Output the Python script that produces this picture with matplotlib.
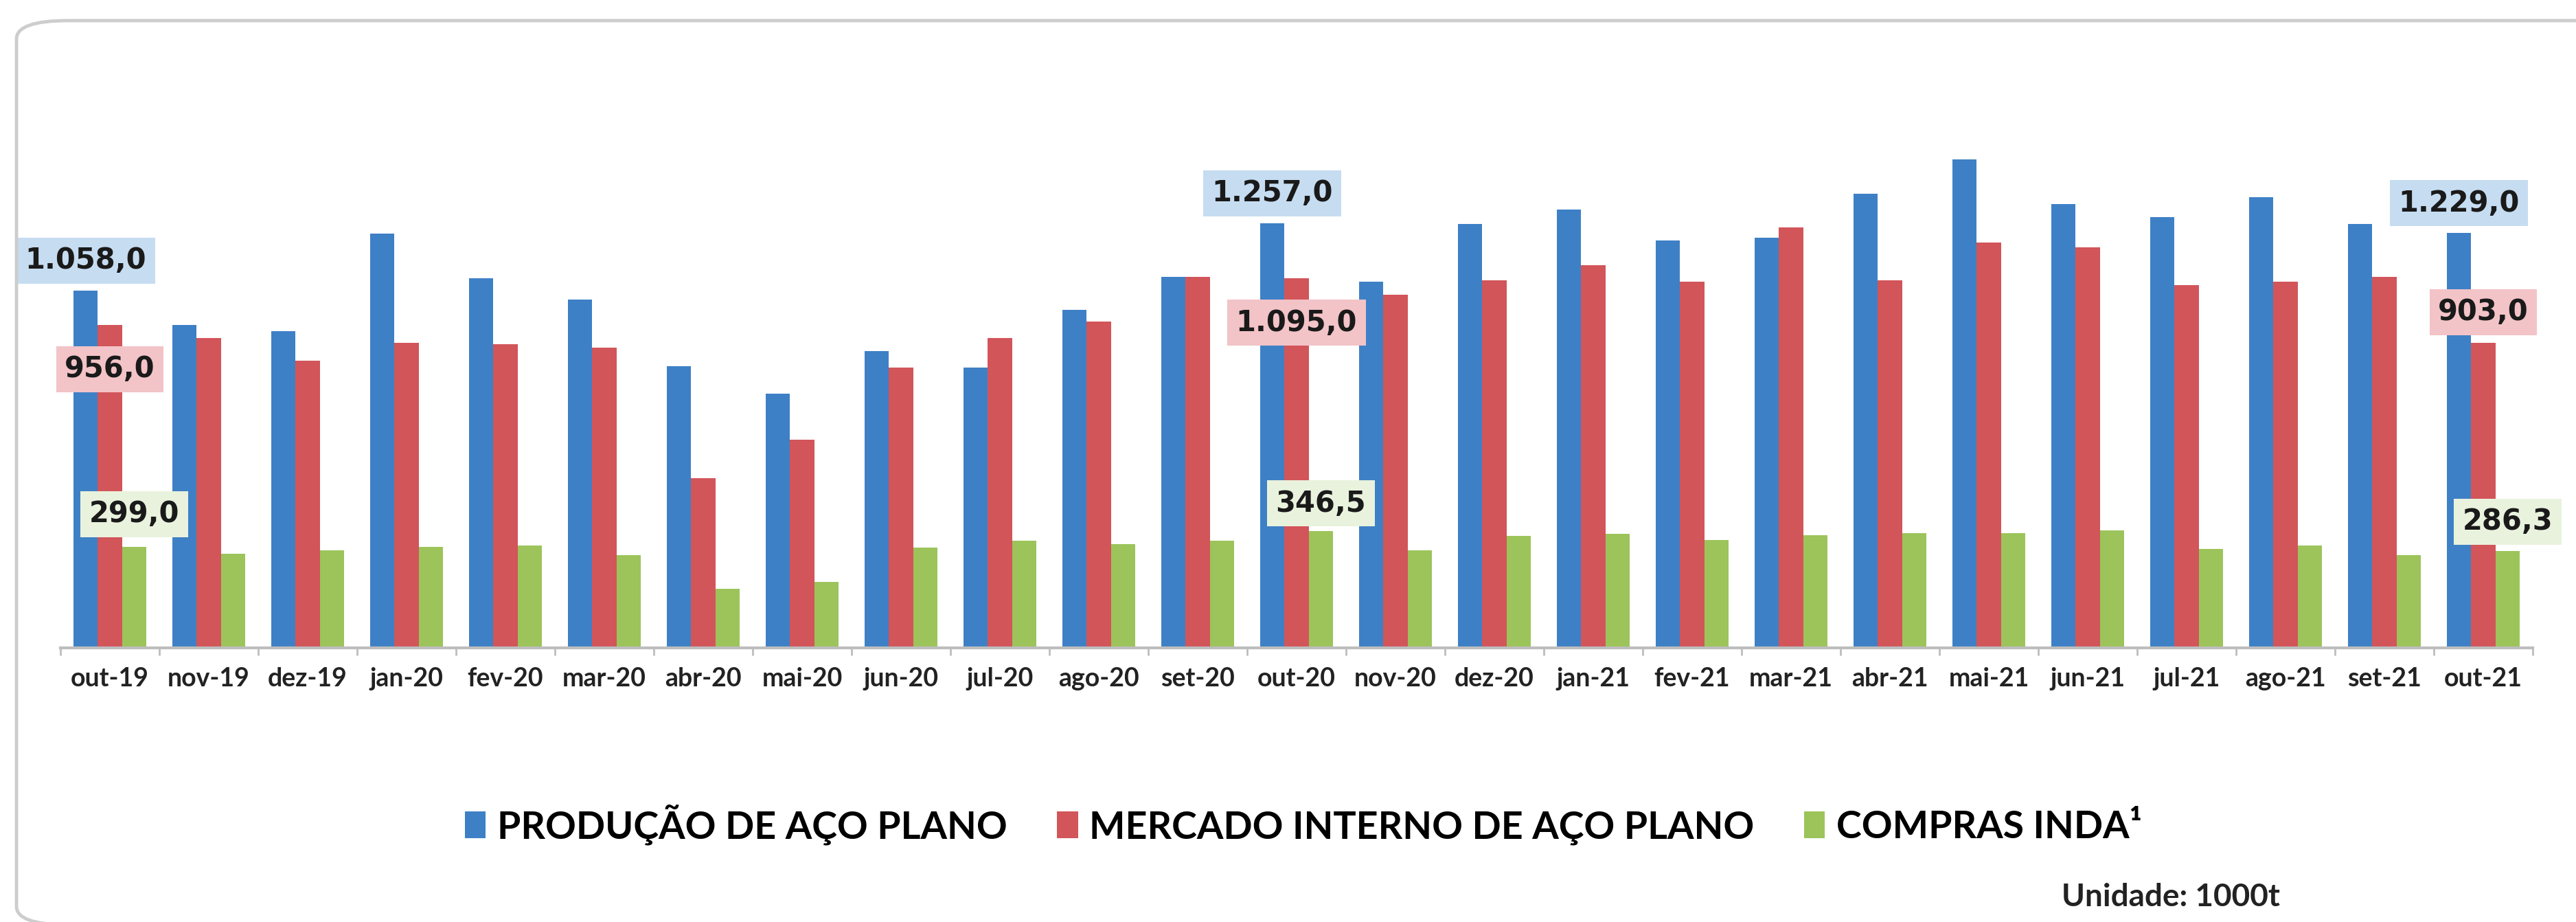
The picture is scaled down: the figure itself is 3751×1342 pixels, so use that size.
import numpy as np
import matplotlib
matplotlib.use("Agg")
import matplotlib.pyplot as plt
from matplotlib.patches import Patch, FancyBboxPatch

# monthly data, unit 1000t
months = ['out-19', 'nov-19', 'dez-19', 'jan-20', 'fev-20', 'mar-20', 'abr-20', 'mai-20',
          'jun-20', 'jul-20', 'ago-20', 'set-20', 'out-20', 'nov-20', 'dez-20', 'jan-21',
          'fev-21', 'mar-21', 'abr-21', 'mai-21', 'jun-21', 'jul-21', 'ago-21', 'set-21', 'out-21']
producao = [1058.0, 957, 938, 1226, 1094, 1031, 835, 752, 879, 830, 1001, 1099, 1257.0,
            1084, 1255, 1299, 1206, 1215, 1344, 1447, 1315, 1275, 1334, 1255, 1229.0]
mercado = [956.0, 918, 850, 904, 899, 889, 503, 616, 830, 918, 967, 1099, 1095.0,
           1045, 1089, 1133, 1085, 1245, 1088, 1201, 1187, 1075, 1084, 1099, 903.0]
compras = [299.0, 278, 288, 299, 303, 274, 176, 195, 298, 318, 308, 318, 346.5,
           288, 332, 337, 320, 334, 340, 340, 347, 293, 303, 274, 286.3]
series_names = ['PRODUÇÃO DE AÇO PLANO', 'MERCADO INTERNO DE AÇO PLANO', 'COMPRAS INDA¹']
colors = ['#3E80C6', '#D2555A', '#9CC45A']
box_colors = ['#C6DCF1', '#F2C3C7', '#E9F2DD']

# which months get a value label, and pixel offset of each label from the bar top
label_idx = [0, 12, 24]
offsets = {0: [44, -64, 48], 12: [44, -65, 40], 24: [43, 45, 43]}


def fmt(v):
    s = f"{v:,.1f}"
    return s.replace(',', 'X').replace('.', ',').replace('X', '.')


W, H = 3751, 1342
fig = plt.figure(figsize=(W / 100, H / 100), dpi=100)
fig.patch.set_facecolor('white')

# rounded outer frame (cut by the right and bottom edges)
frame = FancyBboxPatch((24 / W, -4 / H), 1.2, (1312 + 4) / H,
                       boxstyle='round,pad=0,rounding_size=0.02',
                       transform=fig.transFigure, facecolor='none',
                       edgecolor='#CDCDCD', linewidth=3.5, clip_on=False)
fig.patches.append(frame)

ax = fig.add_axes([88 / W, (H - 943) / H, 3600 / W, 835.5 / H])
x = np.arange(len(months))
bw = 0.245
data = [producao, mercado, compras]
for k, vals in enumerate(data):
    ax.bar(x + (k - 1) * bw, vals, width=bw, color=colors[k], edgecolor='none',
           label=series_names[k], zorder=2)

for i in label_idx:
    for k, vals in enumerate(data):
        ax.annotate(fmt(vals[i]), xy=(x[i] + (k - 1) * bw, vals[i]),
                    xytext=(0, offsets[i][k]), textcoords='offset pixels',
                    ha='center', va='center', fontsize=30, fontweight='bold',
                    family='DejaVu Sans', color='#1a1a1a', zorder=5,
                    bbox=dict(boxstyle='square,pad=0.3', facecolor=box_colors[k],
                              edgecolor='none'))

ax.set_xlim(-0.5, len(months) - 0.5)
ax.set_ylim(0, 1700)
ax.set_yticks([])
for s in ['top', 'left', 'right']:
    ax.spines[s].set_visible(False)
ax.spines['bottom'].set_color('#BDBDBD')
ax.spines['bottom'].set_linewidth(3)

ax.set_xticks(x)
ax.set_xticklabels(months, fontsize=27, fontweight='bold', family='Lato', color='#222222')
ax.tick_params(axis='x', which='major', length=0, pad=20)
ax.set_xticks(np.arange(-0.5, len(months)), minor=True)
ax.tick_params(axis='x', which='minor', length=8, width=2, color='#BDBDBD')

handles = [Patch(facecolor=c, edgecolor='none') for c in colors]
fig.legend(handles, series_names, loc='center', bbox_to_anchor=(0.506, 1 - 1200 / H),
           ncol=3, frameon=False, handlelength=0.55, handleheight=0.7,
           handletextpad=0.3, columnspacing=1.3,
           prop={'family': 'Lato', 'weight': 'bold', 'size': 40})

fig.text(3002 / W, 1 - 1306 / H, 'Unidade: 1000t', fontsize=33, fontweight='bold',
         family='Lato', color='#222222', ha='left', va='center')

fig.savefig('out.png', dpi=100, facecolor='white')
